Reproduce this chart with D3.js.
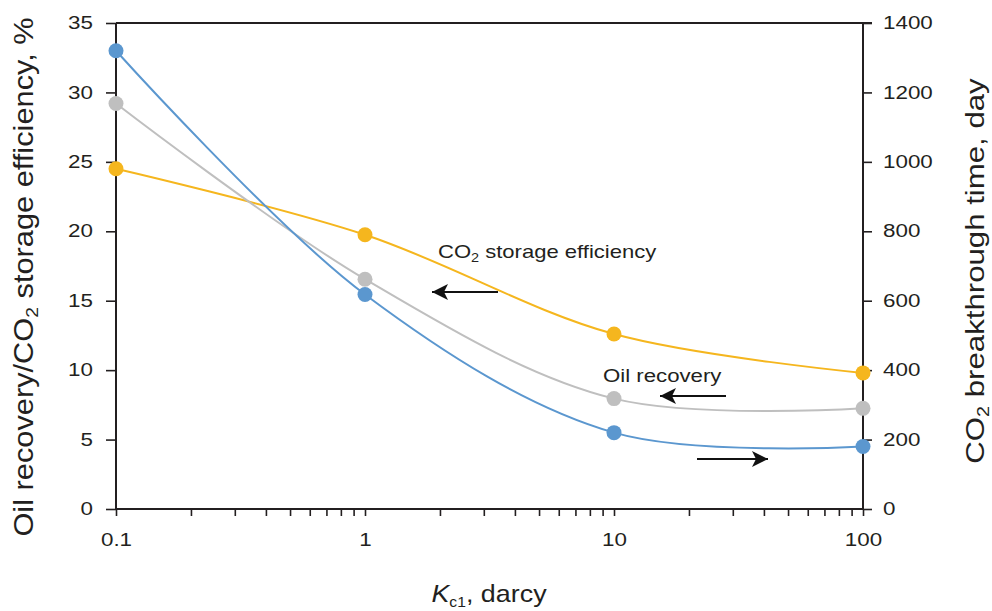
<!DOCTYPE html>
<html>
<head>
<meta charset="utf-8">
<script src="https://cdn.jsdelivr.net/npm/d3@7"></script>
<style>
html,body{margin:0;padding:0;background:#fff;}
svg{display:block;font-family:"Liberation Sans",Arial,sans-serif;}
</style>
</head>
<body>
<svg id="chart" width="992" height="611"></svg>
<script>
const kValues = [0.1, 1, 10, 100];
const oilRecovery = [29.2, 16.55, 7.95, 7.25];          // %, left axis
const storageEfficiency = [24.5, 19.75, 12.6, 9.8];     // %, left axis
const breakthroughTime = [1320, 618, 220, 180];         // day, right axis
const xTicks = [0.1, 1, 10, 100];
const xTickLabels = ["0.1", "1", "10", "100"];
const leftTicks = [0, 5, 10, 15, 20, 25, 30, 35];
const rightTicks = [0, 200, 400, 600, 800, 1000, 1200, 1400];

const svg = d3.select("#chart");
const m = {left:116, right:863, top:23, bottom:509};
const ink = "#231f20";
const SX = 1.28; // horizontal stretch of tick labels in the reference

const x = d3.scaleLog().domain([0.1, 100]).range([m.left, m.right]);
const yL = d3.scaleLinear().domain([0, 35]).range([m.bottom, m.top]);
const yR = d3.scaleLinear().domain([0, 1400]).range([m.bottom, m.top]);

// minor ticks for log axis
const minor = [];
[0.1, 1, 10].forEach(d => { for (let i = 2; i <= 9; i++) minor.push(d * i); });

const xAxis = d3.axisBottom(x).tickValues(xTicks.concat(minor)).tickSize(7).tickPadding(18)
  .tickFormat(d => { const i = xTicks.indexOf(d); return i >= 0 ? xTickLabels[i] : ""; });
const gx = svg.append("g").attr("transform", `translate(0,${m.bottom})`).call(xAxis);

const gl = svg.append("g").attr("transform", `translate(${m.left},0)`)
  .call(d3.axisLeft(yL).tickValues(leftTicks).tickSize(10).tickPadding(13).tickFormat(d3.format("d")));
const gr = svg.append("g").attr("transform", `translate(${m.right},0)`)
  .call(d3.axisRight(yR).tickValues(rightTicks).tickSize(9).tickPadding(11).tickFormat(d3.format("d")));

[gx, gl, gr].forEach(g => {
  g.select(".domain").attr("stroke", ink).attr("stroke-width", 2);
  g.selectAll(".tick line").attr("stroke", ink).attr("stroke-width", 1.6);
  g.selectAll(".tick text").attr("fill", ink).attr("font-size", 17.5)
    .attr("font-family", '"Liberation Sans", Arial, sans-serif')
    .each(function() {
      const t = d3.select(this);
      const tx = +t.attr("x") || 0;
      t.attr("x", 0).attr("transform", `translate(${tx},0) scale(${SX},1)`);
    });
});
gx.select(".domain").attr("d", `M${m.left},0H${m.right}`);
gl.select(".domain").attr("d", `M0,${m.bottom}V${m.top}`);
gr.select(".domain").attr("d", `M0,${m.bottom}V${m.top}`);
// top border
svg.append("line").attr("x1", m.left).attr("x2", m.right + 9)
  .attr("y1", m.top).attr("y2", m.top).attr("stroke", ink).attr("stroke-width", 2);

// series
const series = [
  {vals: storageEfficiency, y: yL, color: "#f5b61e"},
  {vals: oilRecovery, y: yL, color: "#bfbfbf"},
  {vals: breakthroughTime, y: yR, color: "#5b97cf"}
];
const curve = d3.curveCatmullRom.alpha(0.5);
series.forEach(s => {
  const pts = kValues.map((k, i) => [x(k), s.y(s.vals[i])]);
  svg.append("path").attr("d", d3.line().curve(curve)(pts))
    .attr("fill", "none").attr("stroke", s.color).attr("stroke-width", 2);
});
series.forEach(s => {
  svg.append("g").selectAll("circle").data(kValues).join("circle")
    .attr("cx", d => x(d)).attr("cy", (d, i) => s.y(s.vals[i]))
    .attr("r", 7.5).attr("fill", s.color);
});

// arrows
const defs = svg.append("defs");
defs.append("marker").attr("id", "ah").attr("viewBox", "0 0 16 16")
  .attr("refX", 16).attr("refY", 8).attr("markerWidth", 16).attr("markerHeight", 16)
  .attr("markerUnits", "userSpaceOnUse").attr("orient", "auto")
  .append("path").attr("d", "M0,0L16,8L0,16L4,8Z").attr("fill", "#111");
function arrow(x1, x2, yy) {
  svg.append("line").attr("x1", x1).attr("x2", x2).attr("y1", yy).attr("y2", yy)
    .attr("stroke", "#111").attr("stroke-width", 2).attr("marker-end", "url(#ah)");
}
arrow(498, 432, 292);
arrow(726, 660, 396);
arrow(697, 768, 459);

// annotations
const ann1 = svg.append("text").attr("transform", "translate(438,258) scale(1.16,1)")
  .attr("font-size", 19).attr("fill", ink);
ann1.append("tspan").text("CO");
ann1.append("tspan").text("2").attr("font-size", 12.5).attr("dy", 4);
ann1.append("tspan").text(" storage efficiency").attr("dy", -4);
svg.append("text").attr("transform", "translate(603,382) scale(1.17,1)")
  .attr("font-size", 19).attr("fill", ink).text("Oil recovery");

// axis titles
const lt = svg.append("text").attr("transform", "translate(33,277) rotate(-90) scale(1.14,1)")
  .attr("text-anchor", "middle").attr("font-size", 27).attr("fill", ink);
lt.append("tspan").text("Oil recovery/CO");
lt.append("tspan").text("2").attr("font-size", 17).attr("dy", 5);
lt.append("tspan").text(" storage efficiency, %").attr("dy", -5);

const rt = svg.append("text").attr("transform", "translate(984,271) rotate(-90) scale(1.2,1)")
  .attr("text-anchor", "middle").attr("font-size", 26).attr("fill", ink);
rt.append("tspan").text("CO");
rt.append("tspan").text("2").attr("font-size", 16.5).attr("dy", 5);
rt.append("tspan").text(" breakthrough time, day").attr("dy", -5);

const xt = svg.append("text").attr("transform", "translate(489,602) scale(1.12,1)")
  .attr("text-anchor", "middle").attr("font-size", 24).attr("fill", ink);
xt.append("tspan").text("K").attr("font-style", "italic");
xt.append("tspan").text("c1").attr("font-size", 14).attr("dy", 5);
xt.append("tspan").text(", darcy").attr("dy", -5);
</script>
</body>
</html>
